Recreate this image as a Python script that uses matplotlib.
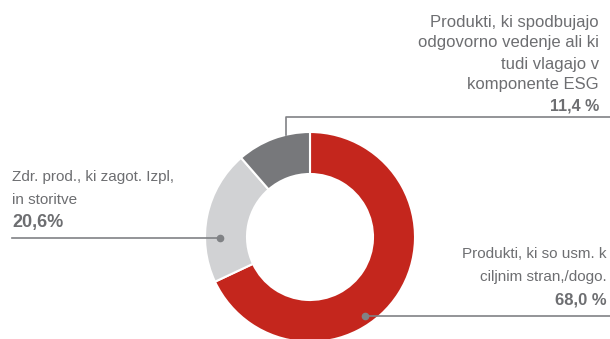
import matplotlib
matplotlib.use("Agg")
import matplotlib.pyplot as plt

# data
values = [68.0, 20.6, 11.4]
colors = ["#c4261d", "#d1d2d4", "#77787b"]
label_red = ["Produkti, ki so usm. k", "ciljnim stran,/dogo."]
label_light = ["Zdr. prod., ki zagot. Izpl,", "in storitve"]
label_dark = ["Produkti, ki spodbujajo", "odgovorno vedenje ali ki",
              "tudi vlagajo v", "komponente ESG"]
value_labels = ["68,0 %", "20,6%", "11,4 %"]

plt.rcParams["font.family"] = ["Liberation Sans", "DejaVu Sans"]

W, H = 610, 339
fig = plt.figure(figsize=(W / 100, H / 100), dpi=100)
ax = fig.add_axes([0, 0, 1, 1])

cx, cy, R = 310, H - 237, 105
ax.pie(values, colors=colors, startangle=90, counterclock=False,
       center=(cx, cy), radius=R,
       wedgeprops=dict(width=42, edgecolor="white", linewidth=1.5))
ax.set_xlim(0, W)
ax.set_ylim(0, H)
ax.set_aspect("equal")
ax.axis("off")

txt = "#6d6e71"
line = "#808285"


def block(x, ys, lines, value, ha, fs, vfs):
    for y, s in zip(ys, lines):
        ax.text(x, H - y, s, ha=ha, va="center", fontsize=fs, color=txt)
    ax.text(x, H - ys[-1] - (ys[1] - ys[0]), value, ha=ha, va="center",
            fontsize=vfs, color=txt, fontweight="bold")


# red - bottom right
ax.plot([365, 610], [H - 316, H - 316], color=line, lw=1.2)
ax.plot(365, H - 316, "o", color=line, ms=4.5)
block(607, [254, 277], label_red, value_labels[0], "right", 11, 12)

# light gray - left
ax.plot([12, 220], [H - 238, H - 238], color=line, lw=1.2)
ax.plot(220, H - 238, "o", color=line, ms=4.5)
block(12, [177, 200], label_light, value_labels[1], "left", 11, 13)

# dark gray - top right
ax.plot([286, 286, 610], [H - 135, H - 117, H - 117], color=line, lw=1.2)
block(599, [22, 43, 64, 85], label_dark, value_labels[2], "right", 12, 11.5)

fig.savefig("out.png", dpi=100)
